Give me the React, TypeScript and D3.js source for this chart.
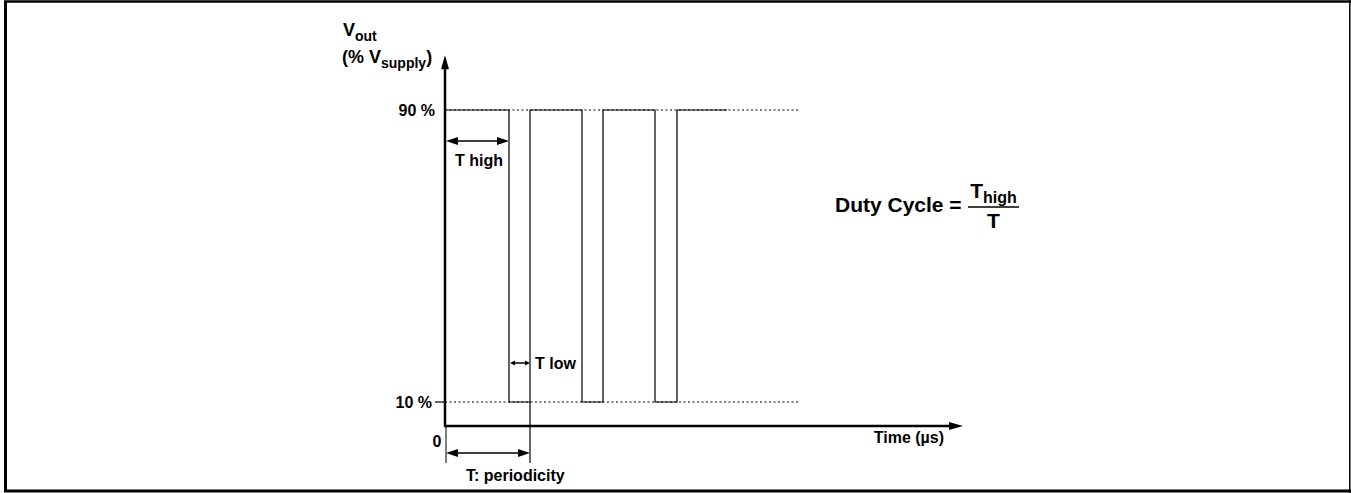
import React from "react";
import * as d3 from "d3";

// Transition times (arbitrary time units) of the PWM signal
const edgeTimes = [64, 85, 137, 158, 210, 232];
const lastHighEnd = 282; // solid high segment end
const guideEnd = 355; // dotted guide end
const axisEnd = 518;
const levelLabels = ["90 %", "10 %"];
const levels = [90, 10];
const axisLevel = 3.4;
const axisTop = 105;

const W = 1351;
const H = 493;
const FONT = "'Liberation Sans', Arial, Helvetica, sans-serif";

export default function App() {
  const x = d3.scaleLinear().domain([0, 520]).range([445, 965]);
  const y = d3.scaleLinear().domain([10, 90]).range([402, 110]);

  const hi = 90;
  const lo = 10;

  // signal path
  const pts: [number, number][] = [[0, hi]];
  let level = hi;
  edgeTimes.forEach((t) => {
    pts.push([t, level]);
    level = level === hi ? lo : hi;
    pts.push([t, level]);
  });
  pts.push([lastHighEnd, level]);
  const line = d3
    .line<[number, number]>()
    .x((d) => x(d[0]))
    .y((d) => y(d[1]));

  const x0 = x(0);
  const yAxis = y(axisLevel);

  const arrowHead = (tipX: number, tipY: number, dir: number, len: number, half: number) =>
    `M${tipX},${tipY} L${tipX - dir * len},${tipY - half} L${tipX - dir * len},${tipY + half} Z`;

  const dblArrow = (xa: number, xb: number, yy: number, len: number, half: number) => (
    <g>
      <line x1={xa + len} x2={xb - len} y1={yy} y2={yy} stroke="#000" strokeWidth={1.5} />
      <path d={arrowHead(xa, yy, -1, len, half)} fill="#000" />
      <path d={arrowHead(xb, yy, 1, len, half)} fill="#000" />
    </g>
  );

  const T = x(edgeTimes[1]);
  const tHigh = x(edgeTimes[0]);

  return (
    <svg
      width={W}
      height={H}
      style={{ position: "absolute", left: 0, top: 0, background: "#fff" }}
      fontFamily={FONT}
      fontWeight="bold"
    >
      {/* frame */}
      <line x1={5.5} x2={5.5} y1={1} y2={492} stroke="#000" strokeWidth={3} />
      <line x1={4} x2={1351} y1={1.5} y2={1.5} stroke="#000" strokeWidth={2.5} />
      <line x1={4} x2={1351} y1={491} y2={491} stroke="#000" strokeWidth={3} />
      <line x1={1349.8} x2={1349.8} y1={0} y2={493} stroke="#000" strokeWidth={1.5} />

      {/* dotted guides */}
      {levels.map((lv) => (
        <line
          key={lv}
          x1={x0}
          x2={x(guideEnd)}
          y1={y(lv)}
          y2={y(lv)}
          stroke="#000"
          strokeWidth={1}
          strokeDasharray="2,2.5"
        />
      ))}
      {/* 10% tick */}
      <line x1={x0 - 10} x2={x0} y1={y(10)} y2={y(10)} stroke="#000" strokeWidth={1.2} />

      {/* signal */}
      <path d={line(pts) || ""} fill="none" stroke="#000" strokeWidth={1.2} />

      {/* period markers below axis */}
      <line x1={x0 + 1} x2={x0 + 1} y1={yAxis} y2={463} stroke="#000" strokeWidth={1} />
      <line x1={T} x2={T} y1={y(lo)} y2={463} stroke="#000" strokeWidth={1.2} />

      {/* axes */}
      <line x1={x0} x2={x0} y1={yAxis + 1} y2={y(axisTop) + 10} stroke="#000" strokeWidth={2.5} />
      <path
        d={`M${x0},${y(axisTop)} L${x0 - 4},${y(axisTop) + 14} L${x0 + 4},${y(axisTop) + 14} Z`}
        fill="#000"
      />
      <line x1={x0 - 1} x2={x(axisEnd) - 12} y1={yAxis} y2={yAxis} stroke="#000" strokeWidth={2.5} />
      <path d={arrowHead(x(axisEnd), yAxis, 1, 14, 4)} fill="#000" />

      {/* dimension arrows */}
      {dblArrow(x0 + 1, tHigh, 141, 12, 4)}
      {dblArrow(tHigh + 1, T, 363, 5, 2.5)}
      {dblArrow(x0 + 1, T, 453, 12, 4)}

      {/* labels */}
      <g fontSize={16} dominantBaseline="central">
        <text x={435} y={110} textAnchor="end">{levelLabels[0]}</text>
        <text x={432} y={402} textAnchor="end">{levelLabels[1]}</text>
        <text x={437} y={441} textAnchor="middle">0</text>
        <text x={455} y={160}>T high</text>
        <text x={535} y={363}>T low</text>
        <text x={466} y={475}>T: periodicity</text>
        <text x={944} y={437} textAnchor="end">Time (µs)</text>
      </g>

      {/* y label */}
      <text x={343} y={36} fontSize={18}>
        V<tspan fontSize={14} dy={5}>out</tspan>
      </text>
      <text x={342} y={63} fontSize={18}>
        (% V<tspan fontSize={14} dy={5}>supply</tspan>
        <tspan dy={-5}>)</tspan>
      </text>

      {/* duty cycle formula */}
      <text x={835} y={204} fontSize={21} dominantBaseline="central">Duty Cycle =</text>
      <line x1={968} x2={1019} y1={207} y2={207} stroke="#000" strokeWidth={1.5} />
      <text x={993.5} y={198} fontSize={21} textAnchor="middle">
        T<tspan fontSize={16} dy={5}>high</tspan>
      </text>
      <text x={993.5} y={228} fontSize={21} textAnchor="middle">T</text>
    </svg>
  );
}
